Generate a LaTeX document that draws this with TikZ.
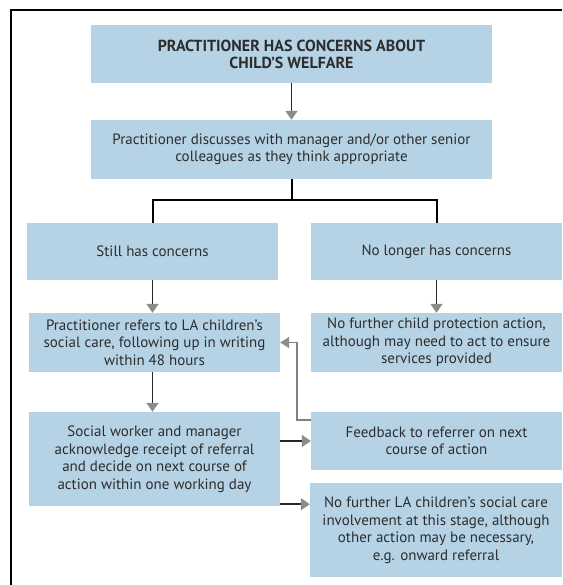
\documentclass[tikz,border=0pt]{standalone}
\usepackage{fontspec}
\setmainfont{PT Sans}
\usetikzlibrary{arrows.meta}
\definecolor{boxblue}{RGB}{181,211,229}
\definecolor{txt}{RGB}{45,45,45}
\begin{document}
\begin{tikzpicture}[x=1pt,y=-1pt,
	box/.style={fill=boxblue,text=txt,align=center,inner sep=0pt,font=\fontsize{15}{17.5}\selectfont},
	arr/.style={draw=black!85,line width=1.8pt,-{Triangle[width=12pt,length=9pt,color=black!45]}},
	fb/.style={draw=black!50,line width=1.5pt,-{Triangle[width=11pt,length=9pt,color=black!45]}},
	branch/.style={draw=black,line width=2pt}]
		\useasboundingbox (0,0) rectangle (562,585);
		\draw [line width=1.8pt] (11,585) -- (11,10) -- (562,10);
		\node[box,minimum width=401pt,minimum height=58pt,font=\fontsize{16}{17}\selectfont\bfseries] (concern) at (291.5,54) {PRACTITIONER HAS CONCERNS ABOUT\\CHILD'S WELFARE};
		\node[box,minimum width=401pt,minimum height=59pt] (discuss) at (291.5,149.5) {Practitioner discusses with manager and/or other senior\\colleagues as they think appropriate};
		\node[box,minimum width=251pt,minimum height=57pt] (still) at (152.5,251.5) {Still has concerns};
		\node[box,minimum width=251pt,minimum height=57pt] (nolonger) at (436.5,251.5) {No longer has concerns};
		\node[box,minimum width=251pt,minimum height=59pt] (refer) at (154.5,342.5) {Practitioner refers to LA children's\\social care, following up in writing\\within 48 hours};
		\node[box,minimum width=251pt,minimum height=59pt] (noaction) at (436.5,342.5) {No further child protection action,\\although may need to act to ensure\\services provided};
		\node[box,minimum width=251pt,minimum height=94pt] (decide) at (154.5,459) {Social worker and manager\\acknowledge receipt of referral\\and decide on next course of\\action within one working day};
		\node[box,minimum width=251pt,minimum height=58pt] (feedback) at (436.5,441) {Feedback to referrer on next\\course of action};
		\node[box,minimum width=252pt,minimum height=94pt] (nola) at (436,530) {No further LA children's social care\\involvement at this stage, although\\other action may be necessary,\\e.g. onward referral};
		\draw [arr] (concern.south) -- (discuss.north);
		\draw [branch] (discuss.south) -- ++(0,21) coordinate (split);
		\draw [branch] (still.north) |- (split) -| (nolonger.north);
		\draw [arr] (still.south) -- (still.south |- refer.north);
		\draw [arr] (nolonger.south) -- (nolonger.south |- noaction.north);
		\draw [arr] (still.south |- refer.south) -- (still.south |- decide.north);
		\draw [arr] (feedback.west -| decide.east) -- (feedback.west);
		\draw [arr] ([yshift=2pt]decide.south east) -- ([yshift=2pt]decide.south east -| nola.west);
		\draw [fb] ([yshift=-8pt]feedback.north west) -- ++(-14,0) |- (refer.east);
	\end{tikzpicture}
\end{document}
